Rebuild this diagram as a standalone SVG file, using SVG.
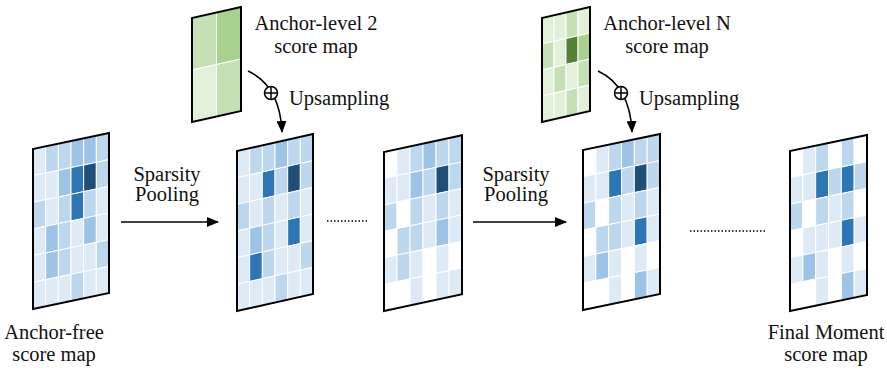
<svg xmlns="http://www.w3.org/2000/svg" width="887" height="371" viewBox="0 0 887 371">
<defs>
<marker id="ah" markerWidth="12" markerHeight="10" refX="11" refY="5" orient="auto" markerUnits="userSpaceOnUse"><path d="M0,0 L12,5 L0,10 Z" fill="#000"/></marker>
<style>
.c rect{stroke:#fff;stroke-width:1}
.b0{fill:#ffffff}.b1{fill:#deebf7}.b2{fill:#bdd7ee}.b3{fill:#9dc3e6}.b4{fill:#2e75b6}.b5{fill:#1f4e79}
.g1{fill:#e2f0d9}.g2{fill:#c5e0b4}.g3{fill:#a9d18e}.g4{fill:#548235}
.frame{fill:none;stroke:#000;stroke-width:2}
text{font-family:"Liberation Serif","Times New Roman",serif;font-size:20.5px;fill:#111}
.ln{stroke:#000;stroke-width:1.5;fill:none}
.dot{stroke:#000;stroke-width:1.5;stroke-dasharray:1.5 2;fill:none}
</style>
</defs>

<g id="map-anchor-free" transform="matrix(1,-0.2105,0,1,33,149)">
<g class="c">
<rect x="0" y="0" width="12.67" height="26.67" class="b1"/><rect x="12.67" y="0" width="12.67" height="26.67" class="b2"/><rect x="25.33" y="0" width="12.67" height="26.67" class="b2"/><rect x="38" y="0" width="12.67" height="26.67" class="b3"/><rect x="50.67" y="0" width="12.67" height="26.67" class="b3"/><rect x="63.33" y="0" width="12.67" height="26.67" class="b2"/>
<rect x="0" y="26.67" width="12.67" height="26.67" class="b1"/><rect x="12.67" y="26.67" width="12.67" height="26.67" class="b1"/><rect x="25.33" y="26.67" width="12.67" height="26.67" class="b3"/><rect x="38" y="26.67" width="12.67" height="26.67" class="b4"/><rect x="50.67" y="26.67" width="12.67" height="26.67" class="b5"/><rect x="63.33" y="26.67" width="12.67" height="26.67" class="b2"/>
<rect x="0" y="53.33" width="12.67" height="26.67" class="b2"/><rect x="12.67" y="53.33" width="12.67" height="26.67" class="b1"/><rect x="25.33" y="53.33" width="12.67" height="26.67" class="b2"/><rect x="38" y="53.33" width="12.67" height="26.67" class="b4"/><rect x="50.67" y="53.33" width="12.67" height="26.67" class="b2"/><rect x="63.33" y="53.33" width="12.67" height="26.67" class="b1"/>
<rect x="0" y="80" width="12.67" height="26.67" class="b1"/><rect x="12.67" y="80" width="12.67" height="26.67" class="b3"/><rect x="25.33" y="80" width="12.67" height="26.67" class="b2"/><rect x="38" y="80" width="12.67" height="26.67" class="b1"/><rect x="50.67" y="80" width="12.67" height="26.67" class="b3"/><rect x="63.33" y="80" width="12.67" height="26.67" class="b1"/>
<rect x="0" y="106.67" width="12.67" height="26.67" class="b1"/><rect x="12.67" y="106.67" width="12.67" height="26.67" class="b3"/><rect x="25.33" y="106.67" width="12.67" height="26.67" class="b2"/><rect x="38" y="106.67" width="12.67" height="26.67" class="b1"/><rect x="50.67" y="106.67" width="12.67" height="26.67" class="b1"/><rect x="63.33" y="106.67" width="12.67" height="26.67" class="b2"/>
<rect x="0" y="133.33" width="12.67" height="26.67" class="b1"/><rect x="12.67" y="133.33" width="12.67" height="26.67" class="b1"/><rect x="25.33" y="133.33" width="12.67" height="26.67" class="b1"/><rect x="38" y="133.33" width="12.67" height="26.67" class="b2"/><rect x="50.67" y="133.33" width="12.67" height="26.67" class="b1"/><rect x="63.33" y="133.33" width="12.67" height="26.67" class="b1"/>
</g>
<rect class="frame" x="0" y="0" width="76" height="160"/>
</g>

<g id="map-level2-out" transform="matrix(1,-0.2237,0,1,237,151)">
<g class="c">
<rect x="0" y="0" width="12.67" height="26.67" class="b1"/><rect x="12.67" y="0" width="12.67" height="26.67" class="b2"/><rect x="25.33" y="0" width="12.67" height="26.67" class="b2"/><rect x="38" y="0" width="12.67" height="26.67" class="b3"/><rect x="50.67" y="0" width="12.67" height="26.67" class="b2"/><rect x="63.33" y="0" width="12.67" height="26.67" class="b2"/>
<rect x="0" y="26.67" width="12.67" height="26.67" class="b1"/><rect x="12.67" y="26.67" width="12.67" height="26.67" class="b1"/><rect x="25.33" y="26.67" width="12.67" height="26.67" class="b4"/><rect x="38" y="26.67" width="12.67" height="26.67" class="b2"/><rect x="50.67" y="26.67" width="12.67" height="26.67" class="b5"/><rect x="63.33" y="26.67" width="12.67" height="26.67" class="b2"/>
<rect x="0" y="53.33" width="12.67" height="26.67" class="b2"/><rect x="12.67" y="53.33" width="12.67" height="26.67" class="b1"/><rect x="25.33" y="53.33" width="12.67" height="26.67" class="b2"/><rect x="38" y="53.33" width="12.67" height="26.67" class="b1"/><rect x="50.67" y="53.33" width="12.67" height="26.67" class="b2"/><rect x="63.33" y="53.33" width="12.67" height="26.67" class="b1"/>
<rect x="0" y="80" width="12.67" height="26.67" class="b1"/><rect x="12.67" y="80" width="12.67" height="26.67" class="b3"/><rect x="25.33" y="80" width="12.67" height="26.67" class="b2"/><rect x="38" y="80" width="12.67" height="26.67" class="b1"/><rect x="50.67" y="80" width="12.67" height="26.67" class="b4"/><rect x="63.33" y="80" width="12.67" height="26.67" class="b1"/>
<rect x="0" y="106.67" width="12.67" height="26.67" class="b1"/><rect x="12.67" y="106.67" width="12.67" height="26.67" class="b4"/><rect x="25.33" y="106.67" width="12.67" height="26.67" class="b2"/><rect x="38" y="106.67" width="12.67" height="26.67" class="b1"/><rect x="50.67" y="106.67" width="12.67" height="26.67" class="b1"/><rect x="63.33" y="106.67" width="12.67" height="26.67" class="b2"/>
<rect x="0" y="133.33" width="12.67" height="26.67" class="b1"/><rect x="12.67" y="133.33" width="12.67" height="26.67" class="b1"/><rect x="25.33" y="133.33" width="12.67" height="26.67" class="b1"/><rect x="38" y="133.33" width="12.67" height="26.67" class="b2"/><rect x="50.67" y="133.33" width="12.67" height="26.67" class="b1"/><rect x="63.33" y="133.33" width="12.67" height="26.67" class="b1"/>
</g>
<rect class="frame" x="0" y="0" width="76" height="160"/>
</g>

<g id="map-level2-pooled" transform="matrix(1,-0.2141,0,1,384,152)">
<g class="c">
<rect x="0" y="0" width="13" height="26.5" class="b0"/><rect x="13" y="0" width="13" height="26.5" class="b1"/><rect x="26" y="0" width="13" height="26.5" class="b2"/><rect x="39" y="0" width="13" height="26.5" class="b3"/><rect x="52" y="0" width="13" height="26.5" class="b2"/><rect x="65" y="0" width="13" height="26.5" class="b2"/>
<rect x="0" y="26.5" width="13" height="26.5" class="b1"/><rect x="13" y="26.5" width="13" height="26.5" class="b1"/><rect x="26" y="26.5" width="13" height="26.5" class="b3"/><rect x="39" y="26.5" width="13" height="26.5" class="b2"/><rect x="52" y="26.5" width="13" height="26.5" class="b5"/><rect x="65" y="26.5" width="13" height="26.5" class="b2"/>
<rect x="0" y="53" width="13" height="26.5" class="b2"/><rect x="13" y="53" width="13" height="26.5" class="b0"/><rect x="26" y="53" width="13" height="26.5" class="b2"/><rect x="39" y="53" width="13" height="26.5" class="b1"/><rect x="52" y="53" width="13" height="26.5" class="b2"/><rect x="65" y="53" width="13" height="26.5" class="b1"/>
<rect x="0" y="79.5" width="13" height="26.5" class="b0"/><rect x="13" y="79.5" width="13" height="26.5" class="b2"/><rect x="26" y="79.5" width="13" height="26.5" class="b2"/><rect x="39" y="79.5" width="13" height="26.5" class="b1"/><rect x="52" y="79.5" width="13" height="26.5" class="b3"/><rect x="65" y="79.5" width="13" height="26.5" class="b1"/>
<rect x="0" y="106" width="13" height="26.5" class="b1"/><rect x="13" y="106" width="13" height="26.5" class="b2"/><rect x="26" y="106" width="13" height="26.5" class="b1"/><rect x="39" y="106" width="13" height="26.5" class="b0"/><rect x="52" y="106" width="13" height="26.5" class="b1"/><rect x="65" y="106" width="13" height="26.5" class="b0"/>
<rect x="0" y="132.5" width="13" height="26.5" class="b0"/><rect x="13" y="132.5" width="13" height="26.5" class="b0"/><rect x="26" y="132.5" width="13" height="26.5" class="b1"/><rect x="39" y="132.5" width="13" height="26.5" class="b0"/><rect x="52" y="132.5" width="13" height="26.5" class="b1"/><rect x="65" y="132.5" width="13" height="26.5" class="b1"/>
</g>
<rect class="frame" x="0" y="0" width="78" height="159"/>
</g>

<g id="map-levelN-out" transform="matrix(1,-0.2078,0,1,583,150)">
<g class="c">
<rect x="0" y="0" width="12.83" height="26.67" class="b0"/><rect x="12.83" y="0" width="12.83" height="26.67" class="b1"/><rect x="25.67" y="0" width="12.83" height="26.67" class="b2"/><rect x="38.5" y="0" width="12.83" height="26.67" class="b3"/><rect x="51.33" y="0" width="12.83" height="26.67" class="b2"/><rect x="64.17" y="0" width="12.83" height="26.67" class="b2"/>
<rect x="0" y="26.67" width="12.83" height="26.67" class="b1"/><rect x="12.83" y="26.67" width="12.83" height="26.67" class="b1"/><rect x="25.67" y="26.67" width="12.83" height="26.67" class="b4"/><rect x="38.5" y="26.67" width="12.83" height="26.67" class="b2"/><rect x="51.33" y="26.67" width="12.83" height="26.67" class="b5"/><rect x="64.17" y="26.67" width="12.83" height="26.67" class="b2"/>
<rect x="0" y="53.33" width="12.83" height="26.67" class="b2"/><rect x="12.83" y="53.33" width="12.83" height="26.67" class="b0"/><rect x="25.67" y="53.33" width="12.83" height="26.67" class="b2"/><rect x="38.5" y="53.33" width="12.83" height="26.67" class="b1"/><rect x="51.33" y="53.33" width="12.83" height="26.67" class="b2"/><rect x="64.17" y="53.33" width="12.83" height="26.67" class="b1"/>
<rect x="0" y="80" width="12.83" height="26.67" class="b0"/><rect x="12.83" y="80" width="12.83" height="26.67" class="b2"/><rect x="25.67" y="80" width="12.83" height="26.67" class="b2"/><rect x="38.5" y="80" width="12.83" height="26.67" class="b1"/><rect x="51.33" y="80" width="12.83" height="26.67" class="b4"/><rect x="64.17" y="80" width="12.83" height="26.67" class="b1"/>
<rect x="0" y="106.67" width="12.83" height="26.67" class="b1"/><rect x="12.83" y="106.67" width="12.83" height="26.67" class="b3"/><rect x="25.67" y="106.67" width="12.83" height="26.67" class="b1"/><rect x="38.5" y="106.67" width="12.83" height="26.67" class="b0"/><rect x="51.33" y="106.67" width="12.83" height="26.67" class="b1"/><rect x="64.17" y="106.67" width="12.83" height="26.67" class="b0"/>
<rect x="0" y="133.33" width="12.83" height="26.67" class="b0"/><rect x="12.83" y="133.33" width="12.83" height="26.67" class="b0"/><rect x="25.67" y="133.33" width="12.83" height="26.67" class="b1"/><rect x="38.5" y="133.33" width="12.83" height="26.67" class="b0"/><rect x="51.33" y="133.33" width="12.83" height="26.67" class="b3"/><rect x="64.17" y="133.33" width="12.83" height="26.67" class="b1"/>
</g>
<rect class="frame" x="0" y="0" width="77" height="160"/>
</g>

<g id="map-final" transform="matrix(1,-0.2078,0,1,790,151)">
<g class="c">
<rect x="0" y="0" width="12.83" height="26.67" class="b0"/><rect x="12.83" y="0" width="12.83" height="26.67" class="b1"/><rect x="25.67" y="0" width="12.83" height="26.67" class="b2"/><rect x="38.5" y="0" width="12.83" height="26.67" class="b0"/><rect x="51.33" y="0" width="12.83" height="26.67" class="b2"/><rect x="64.17" y="0" width="12.83" height="26.67" class="b0"/>
<rect x="0" y="26.67" width="12.83" height="26.67" class="b1"/><rect x="12.83" y="26.67" width="12.83" height="26.67" class="b1"/><rect x="25.67" y="26.67" width="12.83" height="26.67" class="b4"/><rect x="38.5" y="26.67" width="12.83" height="26.67" class="b2"/><rect x="51.33" y="26.67" width="12.83" height="26.67" class="b4"/><rect x="64.17" y="26.67" width="12.83" height="26.67" class="b2"/>
<rect x="0" y="53.33" width="12.83" height="26.67" class="b2"/><rect x="12.83" y="53.33" width="12.83" height="26.67" class="b0"/><rect x="25.67" y="53.33" width="12.83" height="26.67" class="b2"/><rect x="38.5" y="53.33" width="12.83" height="26.67" class="b1"/><rect x="51.33" y="53.33" width="12.83" height="26.67" class="b2"/><rect x="64.17" y="53.33" width="12.83" height="26.67" class="b0"/>
<rect x="0" y="80" width="12.83" height="26.67" class="b0"/><rect x="12.83" y="80" width="12.83" height="26.67" class="b1"/><rect x="25.67" y="80" width="12.83" height="26.67" class="b1"/><rect x="38.5" y="80" width="12.83" height="26.67" class="b1"/><rect x="51.33" y="80" width="12.83" height="26.67" class="b4"/><rect x="64.17" y="80" width="12.83" height="26.67" class="b1"/>
<rect x="0" y="106.67" width="12.83" height="26.67" class="b1"/><rect x="12.83" y="106.67" width="12.83" height="26.67" class="b3"/><rect x="25.67" y="106.67" width="12.83" height="26.67" class="b1"/><rect x="38.5" y="106.67" width="12.83" height="26.67" class="b0"/><rect x="51.33" y="106.67" width="12.83" height="26.67" class="b1"/><rect x="64.17" y="106.67" width="12.83" height="26.67" class="b0"/>
<rect x="0" y="133.33" width="12.83" height="26.67" class="b0"/><rect x="12.83" y="133.33" width="12.83" height="26.67" class="b0"/><rect x="25.67" y="133.33" width="12.83" height="26.67" class="b1"/><rect x="38.5" y="133.33" width="12.83" height="26.67" class="b0"/><rect x="51.33" y="133.33" width="12.83" height="26.67" class="b3"/><rect x="64.17" y="133.33" width="12.83" height="26.67" class="b1"/>
</g>
<rect class="frame" x="0" y="0" width="77" height="160"/>
</g>

<g id="anchor-level-2" transform="matrix(1,-0.2245,0,1,192,18)">
<g class="c">
<rect x="0" y="0" width="24.5" height="52" class="g2"/><rect x="24.5" y="0" width="24.5" height="52" class="g3"/>
<rect x="0" y="52" width="24.5" height="52" class="g1"/><rect x="24.5" y="52" width="24.5" height="52" class="g2"/>
</g>
<rect class="frame" x="0" y="0" width="49" height="104"/>
</g>

<g id="anchor-level-N" transform="matrix(1,-0.2292,0,1,542,18)">
<g class="c">
<rect x="0" y="0" width="12" height="26" class="g1"/><rect x="12" y="0" width="12" height="26" class="g1"/><rect x="24" y="0" width="12" height="26" class="g2"/><rect x="36" y="0" width="12" height="26" class="g1"/>
<rect x="0" y="26" width="12" height="26" class="g2"/><rect x="12" y="26" width="12" height="26" class="g1"/><rect x="24" y="26" width="12" height="26" class="g4"/><rect x="36" y="26" width="12" height="26" class="g3"/>
<rect x="0" y="52" width="12" height="26" class="g1"/><rect x="12" y="52" width="12" height="26" class="g2"/><rect x="24" y="52" width="12" height="26" class="g1"/><rect x="36" y="52" width="12" height="26" class="g2"/>
<rect x="0" y="78" width="12" height="26" class="g1"/><rect x="12" y="78" width="12" height="26" class="g1"/><rect x="24" y="78" width="12" height="26" class="g2"/><rect x="36" y="78" width="12" height="26" class="g1"/>
</g>
<rect class="frame" x="0" y="0" width="48" height="104"/>
</g>

<g id="connectors">
<line class="ln" x1="121" y1="222" x2="218" y2="222" marker-end="url(#ah)"/>
<line class="ln" x1="473" y1="222" x2="566" y2="222" marker-end="url(#ah)"/>
<path class="ln" d="M248,71 Q280,86 282,132" marker-end="url(#ah)"/>
<path class="ln" d="M598,71 Q630,86 632,132" marker-end="url(#ah)"/>
<circle class="ln" cx="271" cy="93" r="6.5" style="fill:#fff"/>
<path class="ln" d="M264.5,93 H277.5 M271,86.5 V99.5"/>
<circle class="ln" cx="621" cy="93" r="6.5" style="fill:#fff"/>
<path class="ln" d="M614.5,93 H627.5 M621,86.5 V99.5"/>
<line class="dot" x1="327" y1="221" x2="367" y2="221"/>
<line class="dot" x1="690" y1="231" x2="765" y2="231"/>
</g>

<g id="labels">
<text x="316" y="30" text-anchor="middle">Anchor-level 2</text>
<text x="316" y="53" text-anchor="middle">score map</text>
<text x="289" y="105">Upsampling</text>
<text x="667" y="30" text-anchor="middle">Anchor-level N</text>
<text x="667" y="53" text-anchor="middle">score map</text>
<text x="639" y="105">Upsampling</text>
<text x="167" y="181" text-anchor="middle">Sparsity</text>
<text x="167" y="201" text-anchor="middle">Pooling</text>
<text x="516" y="181" text-anchor="middle">Sparsity</text>
<text x="516" y="201" text-anchor="middle">Pooling</text>
<text x="54" y="339" text-anchor="middle">Anchor-free</text>
<text x="54" y="361" text-anchor="middle">score map</text>
<text x="826" y="339" text-anchor="middle">Final Moment</text>
<text x="826" y="361" text-anchor="middle">score map</text>
</g>
</svg>
